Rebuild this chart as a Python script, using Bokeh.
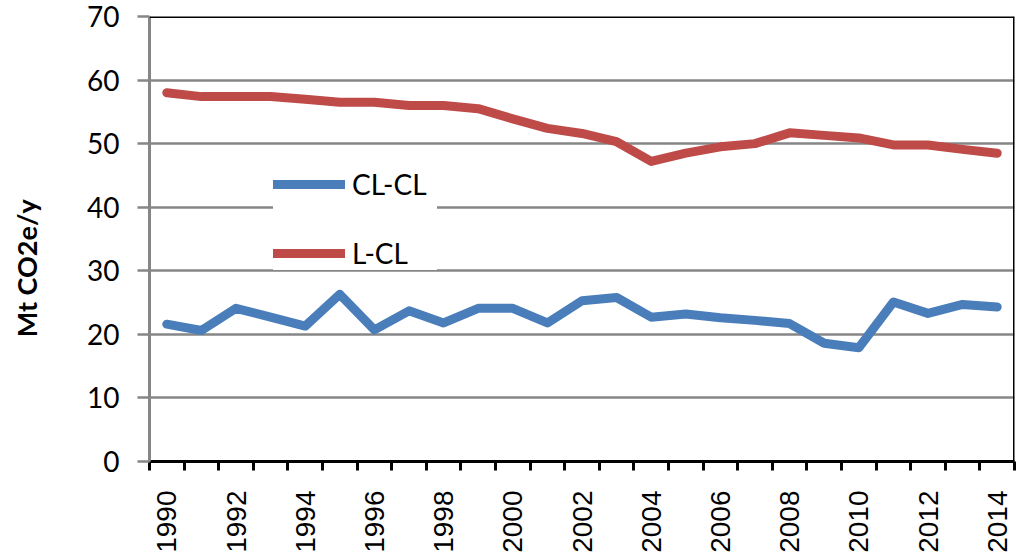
from bokeh.plotting import figure
from bokeh.models import (Range1d, FixedTicker, Span, Legend, LegendItem)
from bokeh.embed import file_html
from bokeh.resources import INLINE
import math

years = list(range(1990, 2015))
cl_cl = [21.6, 20.6, 24.1, 22.7, 21.3, 26.3, 20.7, 23.7, 21.8, 24.1, 24.1, 21.8,
         25.3, 25.8, 22.7, 23.2, 22.6, 22.2, 21.7, 18.6, 17.9, 25.1, 23.3, 24.7, 24.3]
l_cl = [58.0, 57.4, 57.4, 57.4, 57.0, 56.5, 56.5, 56.0, 56.0, 55.5, 53.9, 52.4,
        51.6, 50.3, 47.2, 48.5, 49.5, 50.0, 51.7, 51.3, 50.9, 49.8, 49.8, 49.1, 48.5]
y_ticks = [0, 10, 20, 30, 40, 50, 60, 70]
y_title = "Mt CO2e/y"

idx = list(range(len(years)))
lo, hi = -0.5, len(years) - 0.5

p = figure(width=1021, height=555, output_backend="svg", toolbar_location=None,
           x_range=Range1d(lo, hi), y_range=Range1d(y_ticks[0], y_ticks[-1]),
           min_border_left=149, min_border_right=7, min_border_top=16,
           min_border_bottom=93)
p.outline_line_color = None
p.background_fill_color = "white"

r_blue = p.line(idx, cl_cl, line_color="#4A7EBB", line_width=9,
                line_cap="round", line_join="round")
r_red = p.line(idx, l_cl, line_color="#BE4B48", line_width=9,
               line_cap="round", line_join="round")

# x axis: category boundaries as minor ticks, labels on even years
xa = p.xaxis[0]
xa.ticker = FixedTicker(ticks=[i for i in idx if years[i] % 2 == 0],
                        minor_ticks=[i - 0.5 for i in idx] + [hi])
xa.major_label_overrides = {i: str(years[i]) for i in idx if years[i] % 2 == 0}
xa.major_label_orientation = math.pi / 2
xa.major_label_text_font = "Liberation Sans"
xa.major_label_text_font_size = "28px"
xa.major_label_text_color = "black"
xa.major_label_standoff = 20
xa.major_tick_in = 0
xa.major_tick_out = 0
xa.minor_tick_in = 0
xa.minor_tick_out = 9
xa.minor_tick_line_color = "black"
xa.minor_tick_line_width = 3
xa.axis_line_color = "black"
xa.axis_line_width = 3

ya = p.yaxis[0]
ya.ticker = FixedTicker(ticks=y_ticks, minor_ticks=[])
ya.major_label_text_font = "Lato"
ya.major_label_text_font_size = "28px"
ya.major_label_text_color = "black"
ya.major_label_standoff = 18
ya.major_tick_in = 0
ya.major_tick_out = 12
ya.major_tick_line_color = "#868686"
ya.major_tick_line_width = 2.5
ya.axis_line_color = "#868686"
ya.axis_line_width = 3
# trailing no-break spaces push the centred title a little down the axis
ya.axis_label = y_title + "\u00a0" * 9
ya.axis_label_text_font = "Lato"
ya.axis_label_text_font_style = "bold"
ya.axis_label_text_font_size = "27px"
ya.axis_label_text_color = "black"
ya.axis_label_standoff = 41

p.xgrid.grid_line_color = None
p.ygrid.ticker = FixedTicker(ticks=y_ticks)
p.ygrid.grid_line_color = "#868686"
p.ygrid.grid_line_width = 2.5

p.add_layout(Span(location=y_ticks[-1], dimension="width",
                  line_color="black", line_width=3))
p.add_layout(Span(location=hi, dimension="height",
                  line_color="black", line_width=3))

legend = Legend(items=[LegendItem(label="CL-CL", renderers=[r_blue]),
                       LegendItem(label="L-CL", renderers=[r_red])],
                location=(124, 191), orientation="vertical")
legend.background_fill_color = "white"
legend.background_fill_alpha = 1
legend.border_line_color = None
legend.glyph_width = 72
legend.glyph_height = 30
legend.label_height = 30
legend.label_width = 85
legend.label_standoff = 7
legend.spacing = 35
legend.padding = 12
legend.margin = 0
legend.label_text_font = "Lato"
legend.label_text_font_size = "28px"
legend.label_text_color = "black"
p.add_layout(legend, "center")

open("out.html", "w").write(file_html(p, INLINE))
